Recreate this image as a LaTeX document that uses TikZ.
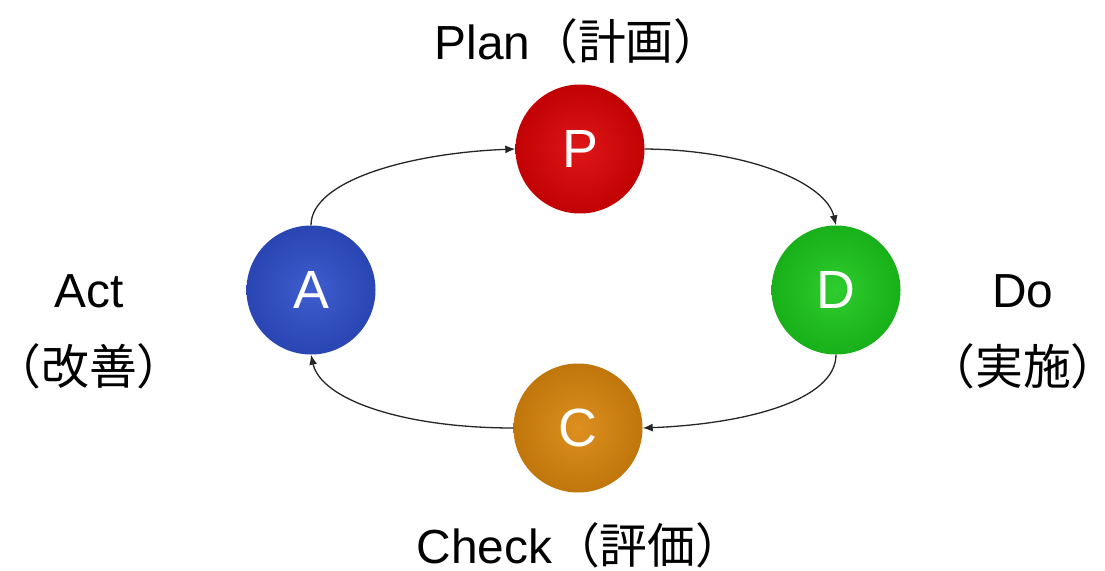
\documentclass[tikz,border=0pt]{standalone}
\usepackage{fontspec}
\setmainfont{Liberation Sans}
\newfontfamily\cjk{Noto Sans CJK JP}
\usetikzlibrary{arrows.meta}
\definecolor{pred}{HTML}{DC0204}
\definecolor{dgreen}{HTML}{1CC81C}
\definecolor{ablue}{HTML}{2F4FCB}
\definecolor{corange}{HTML}{DA860C}
\tikzset{
  ball/.style={circle, minimum size=129bp, inner sep=0pt, text=white,
    font=\fontsize{54}{54}\selectfont, shading=radial},
  lbl/.style={font=\fontsize{48}{77}\selectfont, align=center, text=black, inner sep=2bp},
  conn/.style={line width=1.3bp, draw=black!85, -{Latex[length=10bp,width=8bp]}}
}
\begin{document}
\begin{tikzpicture}[x=1bp,y=-1bp]
\useasboundingbox (0,0) rectangle (1105,571);
\fill[white] (0,0) rectangle (1105,571);
\node[ball, inner color=pred!92!white, outer color=pred!88!black] (P) at (580,149) {P};
\node[ball, inner color=dgreen!92!white, outer color=dgreen!88!black] (D) at (836,290) {D};
\node[ball, inner color=ablue!92!white, outer color=ablue!88!black] (A) at (311,290) {A};
\node[ball, inner color=corange!92!white, outer color=corange!88!black] (C) at (578,428) {C};
\node[lbl, anchor=base] (tP) at (578,60) {Plan{\cjk （計画）}};
\node[lbl, anchor=base] (tC) at (580,563) {Check{\cjk （評価）}};
\node[lbl, anchor=base] (tD) at (1023,384) {Do\\{\cjk （実施）}};
\node[lbl, anchor=base] (tA) at (89,384) {Act\\{\cjk （改善）}};
\draw[conn] (P.east) .. controls +(105,1) and +(-10,-42) .. (D.north);
\draw[conn] (D.south) .. controls +(0,45) and +(105,-4) .. (C.east);
\draw[conn] (C.west) .. controls +(-110,0) and +(10,45) .. (A.south);
\draw[conn] (A.north) .. controls +(0,-45) and +(-105,4) .. (P.west);
\end{tikzpicture}
\end{document}
